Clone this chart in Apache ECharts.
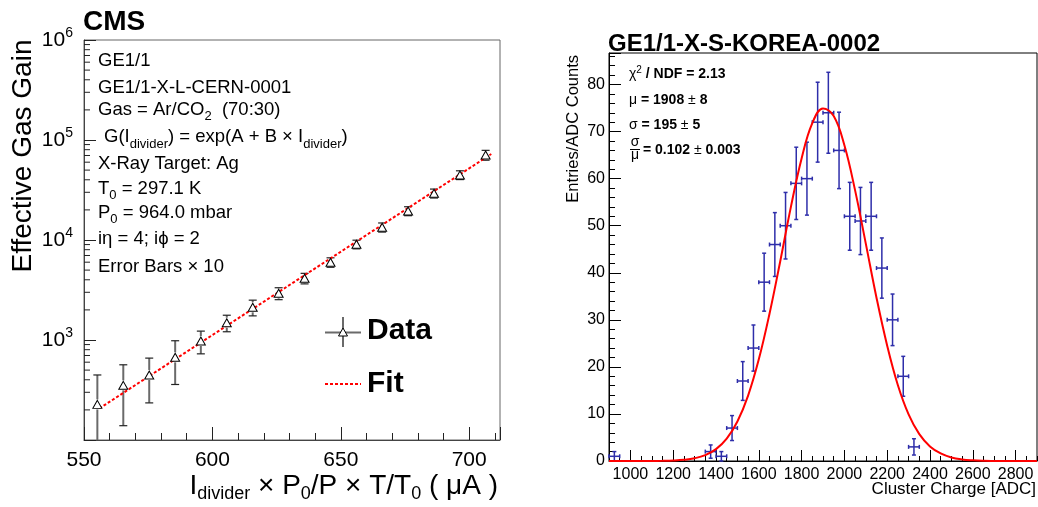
<!DOCTYPE html>
<html><head><meta charset="utf-8">
<script src="https://cdn.jsdelivr.net/npm/echarts@6/dist/echarts.min.js"></script>
<style>html,body{margin:0;padding:0;background:#fff}#c{width:1038px;height:507px}</style>
</head><body><div id="c"></div><script>
// ---------- Left panel: effective gas gain ----------
const gainX   = [555.2, 565.3, 575.4, 585.5, 595.5, 605.6, 615.7, 625.8, 635.9, 646.0, 656.1, 666.1, 676.2, 686.3, 696.4, 706.4];
const gainY   = [227, 352, 447, 671, 977, 1489, 2123, 2931, 4140, 5984, 9057, 13400, 19500, 29300, 44700, 70800];
const gainErr = [220, 213, 212, 312, 250, 280, 380, 400, 500, 650, 900, 1400, 2000, 3000, 4500, 8000];
const fitX = [556.0, 708.6];
const fitY = [207, 72400];
const gainYMinorTicks = [200,300,400,500,600,700,800,900,
  2000,3000,4000,5000,6000,7000,8000,9000,
  20000,30000,40000,50000,60000,70000,80000,90000,
  200000,300000,400000,500000,600000,700000,800000,900000];

// ---------- Right panel: cluster charge histogram ----------
const binCenters = [925, 1375, 1425, 1475, 1525, 1575, 1625, 1675, 1725, 1775, 1825, 1875, 1925, 1975, 2025, 2075, 2125, 2175, 2225, 2275, 2325];
const counts     = [1, 2, 1, 7, 17, 24, 38, 46, 50, 59, 60, 72, 74, 66, 52, 51, 52, 41, 30, 18, 3];
const countErr   = [1, 1.41, 1, 2.65, 4.12, 4.9, 6.16, 6.78, 7.07, 7.68, 7.75, 8.49, 8.6, 8.12, 7.21, 7.14, 7.21, 6.4, 5.48, 4.24, 1.73];
const binHalfWidth = 25;
const gausX = [900,950,1000,1050,1100,1150,1200,1250,1300,1350,1400,1450,1500,1550,1600,1650,1700,1750,1800,1850,1900,
  1950,2000,2050,2100,2150,2200,2250,2300,2350,2400,2450,2500,2550,2600,2650,2700,2750,2800,2850,2900];
const gausY = [0,0,0,0.005,0.014,0.04,0.1,0.25,0.58,1.25,2.52,4.76,8.4,13.9,21.6,31.3,42.4,54.0,64.3,71.8,74.9,
  73.3,67.1,57.5,46.2,34.7,24.5,16.1,9.9,5.7,3.1,1.6,0.75,0.33,0.14,0.05,0.02,0.007,0,0,0];
const chargeTicks = [1000,1200,1400,1600,1800,2000,2200,2400,2600,2800];

const FONT = '"Liberation Sans", Arial, Helvetica, sans-serif';
const GAIN_X_MIN = 550, GAIN_X_MAX = 712, GAIN_Y_MIN = 100, GAIN_Y_MAX = 1e6;
const CH_X_MIN = 900, CH_X_MAX = 2900, CH_Y_MAX = 86.7;
const HBLUE = '#2e2eaa';

function gainErrRender(params, api) {
  const x = api.value(0), y = api.value(1), e = api.value(2);
  const c = api.coord([x, y]);
  const loV = Math.max(y - e, GAIN_Y_MIN);
  const hi = api.coord([x, y + e]), lo = api.coord([x, loV]);
  const gap = 5, cap = 4;
  const bar = {stroke: '#6a6a6a', lineWidth: 2};
  const capS = {stroke: '#222', lineWidth: 1.2};
  const kids = [];
  if (hi[1] < c[1] - gap) kids.push({type: 'line', shape: {x1: c[0], y1: hi[1], x2: c[0], y2: c[1] - gap}, style: bar});
  if (lo[1] > c[1] + gap) kids.push({type: 'line', shape: {x1: c[0], y1: c[1] + gap, x2: c[0], y2: lo[1]}, style: bar});
  kids.push({type: 'line', shape: {x1: c[0] - cap, y1: hi[1], x2: c[0] + cap, y2: hi[1]}, style: capS});
  if (y - e > GAIN_Y_MIN) kids.push({type: 'line', shape: {x1: c[0] - cap, y1: lo[1], x2: c[0] + cap, y2: lo[1]}, style: capS});
  return {type: 'group', children: kids};
}
function minorTickRender(params, api) {
  const p = api.coord([api.value(0), api.value(1)]);
  return {type: 'line', shape: {x1: p[0], y1: p[1], x2: p[0] + 6, y2: p[1]}, style: {stroke: '#222', lineWidth: 1}};
}
function histErrRender(params, api) {
  const x = api.value(0), y = api.value(1), e = api.value(2), hw = api.value(3);
  const c = api.coord([x, y]);
  const t = api.coord([x, y + e]), b = api.coord([x, y - e]);
  const l = api.coord([x - hw, y]), r = api.coord([x + hw, y]);
  const s = {stroke: HBLUE, lineWidth: 1.5};
  const cap = 2;
  return {type: 'group', children: [
    {type: 'line', shape: {x1: c[0], y1: t[1], x2: c[0], y2: b[1]}, style: s},
    {type: 'line', shape: {x1: l[0], y1: c[1], x2: r[0], y2: c[1]}, style: s},
    {type: 'line', shape: {x1: c[0] - cap, y1: t[1], x2: c[0] + cap, y2: t[1]}, style: s},
    {type: 'line', shape: {x1: c[0] - cap, y1: b[1], x2: c[0] + cap, y2: b[1]}, style: s},
    {type: 'line', shape: {x1: l[0], y1: c[1] - cap, x2: l[0], y2: c[1] + cap}, style: s},
    {type: 'line', shape: {x1: r[0], y1: c[1] - cap, x2: r[0], y2: c[1] + cap}, style: s}
  ]};
}

function T(x, y, text, extra) {
  return {type: 'text', x: x, y: y, z: 100,
    style: Object.assign({text: text, fill: '#000', fontFamily: FONT, fontSize: 18.5, verticalAlign: 'middle', align: 'left'}, extra || {})};
}
const richL = {
  m: {fontFamily: FONT, fontSize: 18.5},
  s: {fontFamily: FONT, fontSize: 13, padding: [14, 0, 0, 0]}
};
const richX = {
  m: {fontFamily: FONT, fontSize: 28},
  s: {fontFamily: FONT, fontSize: 18, padding: [17, 0, 0, 0]}
};
const richS = {
  n: {fontFamily: FONT, fontSize: 14},
  b: {fontFamily: FONT, fontSize: 14, fontWeight: 'bold'},
  sup: {fontFamily: FONT, fontSize: 10, padding: [0, 0, 8, 0]}
};

const graphics = [
  T(83, 22, 'CMS', {fontSize: 28, fontWeight: 'bold'}),
  T(98, 61, 'GE1/1'),
  T(98, 87.5, 'GE1/1-X-L-CERN-0001'),
  T(98, 109.5, '{m|Gas = Ar/CO}{s|2}{m|  (70:30)}', {rich: richL}),
  T(104, 137, '{m|G(I}{s|divider}{m|) = exp(A + B × I}{s|divider}{m|)}', {rich: richL}),
  T(98, 164, 'X-Ray Target: Ag'),
  T(98, 188.5, '{m|T}{s|0}{m| = 297.1 K}', {rich: richL}),
  T(98, 212.5, '{m|P}{s|0}{m| = 964.0 mbar}', {rich: richL}),
  T(98, 239, 'iη = 4; iϕ = 2'),
  T(98, 267, 'Error Bars × 10'),
  // legend
  {type: 'line', z: 100, shape: {x1: 343, y1: 317, x2: 343, y2: 347}, style: {stroke: '#6a6a6a', lineWidth: 2}},
  {type: 'line', z: 100, shape: {x1: 325, y1: 332.5, x2: 361, y2: 332.5}, style: {stroke: '#6a6a6a', lineWidth: 2}},
  {type: 'polygon', z: 101, shape: {points: [[343, 328], [347.5, 336], [338.5, 336]]}, style: {fill: '#fff', stroke: '#000', lineWidth: 1}},
  T(367, 331, 'Data', {fontSize: 30, fontWeight: 'bold'}),
  {type: 'line', z: 100, shape: {x1: 325, y1: 384, x2: 361, y2: 384}, style: {stroke: '#ff0000', lineWidth: 2, lineDash: [3, 2]}},
  T(367, 384, 'Fit', {fontSize: 30, fontWeight: 'bold'}),
  // axis titles left
  {type: 'text', x: 23, y: 156, rotation: Math.PI / 2, z: 100,
    style: {text: 'Effective Gas Gain', fill: '#000', fontFamily: FONT, fontSize: 28, align: 'center', verticalAlign: 'middle'}},
  T(498, 486, '{m|I}{s|divider}{m| × P}{s|0}{m|/P × T/T}{s|0}{m| ( μA )}', {rich: richX, align: 'right'}),
  // right panel
  T(608, 44, 'GE1/1-X-S-KOREA-0002', {fontSize: 24, fontWeight: 'bold'}),
  {type: 'text', x: 573, y: 55, rotation: Math.PI / 2, z: 100,
    style: {text: 'Entries/ADC Counts', fill: '#000', fontFamily: FONT, fontSize: 16.5, align: 'right', verticalAlign: 'middle'}},
  T(1036, 489, 'Cluster Charge [ADC]', {fontSize: 17, align: 'right'}),
  T(629, 74, '{n|χ}{sup|2}{b| / NDF = 2.13}', {rich: richS}),
  T(629, 100.5, '{n|μ}{b| = 1908 }{n|±}{b| 8}', {rich: richS}),
  T(629, 125.5, '{n|σ}{b| = 195 }{n|±}{b| 5}', {rich: richS}),
  T(635, 142.5, 'σ', {fontSize: 14, align: 'center'}),
  {type: 'line', z: 100, shape: {x1: 630, y1: 149.5, x2: 640, y2: 149.5}, style: {stroke: '#000', lineWidth: 1}},
  T(635, 155.5, 'μ', {fontSize: 14, align: 'center'}),
  T(643, 150.5, '{b|= 0.102 }{n|±}{b| 0.003}', {rich: richS})
];

const option = {
  animation: false,
  backgroundColor: '#fff',
  textStyle: {fontFamily: FONT},
  grid: [
    {left: 84, top: 40, width: 416, height: 400, show: true, borderColor: '#666', borderWidth: 1},
    {left: 609, top: 53, width: 428, height: 408, show: true, borderColor: '#000', borderWidth: 1}
  ],
  xAxis: [
    {gridIndex: 0, type: 'value', position: 'bottom', min: GAIN_X_MIN, max: GAIN_X_MAX, interval: 50,
      axisLine: {show: true, lineStyle: {color: '#444', width: 1}},
      axisTick: {show: true, inside: true, length: 13, lineStyle: {color: '#222'}},
      axisLabel: {fontSize: 21, color: '#000', margin: 10, fontFamily: FONT,
        formatter: v => (v % 50 === 0 ? String(v) : '')},
      splitLine: {show: false}},
    {gridIndex: 0, type: 'value', position: 'bottom', min: GAIN_X_MIN, max: GAIN_X_MAX, interval: 10,
      axisLine: {show: false}, axisTick: {show: true, inside: true, length: 7, lineStyle: {color: '#222'}},
      axisLabel: {show: false}, splitLine: {show: false}},
    {gridIndex: 1, type: 'value', position: 'bottom', min: CH_X_MIN, max: CH_X_MAX,
      axisLine: {show: true, lineStyle: {color: '#000', width: 1}},
      axisTick: {show: true, inside: true, length: 11, customValues: chargeTicks, lineStyle: {color: '#000'}},
      axisLabel: {customValues: chargeTicks, fontSize: 16, color: '#000', margin: 6, fontFamily: FONT,
        formatter: v => String(v)},
      splitLine: {show: false}},
    {gridIndex: 1, type: 'value', position: 'bottom', min: CH_X_MIN, max: CH_X_MAX, interval: 50,
      axisLine: {show: false}, axisTick: {show: true, inside: true, length: 5, lineStyle: {color: '#000'}},
      axisLabel: {show: false}, splitLine: {show: false}}
  ],
  yAxis: [
    {gridIndex: 0, type: 'log', logBase: 10, position: 'left', min: GAIN_Y_MIN, max: GAIN_Y_MAX,
      axisLine: {show: true, lineStyle: {color: '#444', width: 1}},
      axisTick: {show: true, inside: true, length: 12, lineStyle: {color: '#222'}},
      axisLabel: {margin: 11, color: '#000',
        formatter: v => (v <= GAIN_Y_MIN * 1.01 ? '' : '{b|10}{s|' + Math.round(Math.log10(v)) + '}'),
        rich: {b: {fontFamily: FONT, fontSize: 21, color: '#000'},
               s: {fontFamily: FONT, fontSize: 14, color: '#000', padding: [0, 0, 13, 0]}}},
      splitLine: {show: false}, minorTick: {show: false}},
    {gridIndex: 1, type: 'value', position: 'left', min: 0, max: CH_Y_MAX, interval: 10,
      axisLine: {show: true, lineStyle: {color: '#000', width: 1}},
      axisTick: {show: true, inside: true, length: 12, lineStyle: {color: '#000'}},
      axisLabel: {fontSize: 16, color: '#000', margin: 4, fontFamily: FONT,
        formatter: v => (v % 10 === 0 ? String(v) : '')},
      splitLine: {show: false}},
    {gridIndex: 1, type: 'value', position: 'left', min: 0, max: CH_Y_MAX, interval: 2,
      axisLine: {show: false}, axisTick: {show: true, inside: true, length: 6, lineStyle: {color: '#000'}},
      axisLabel: {show: false}, splitLine: {show: false}}
  ],
  series: [
    {type: 'custom', xAxisIndex: 0, yAxisIndex: 0, renderItem: gainErrRender, z: 3,
      data: gainX.map((x, i) => [x, gainY[i], gainErr[i]])},
    {type: 'line', xAxisIndex: 0, yAxisIndex: 0, symbol: 'none', z: 4,
      lineStyle: {color: '#ff0000', width: 2, type: [3, 2]},
      data: fitX.map((x, i) => [x, fitY[i]])},
    {type: 'scatter', xAxisIndex: 0, yAxisIndex: 0, symbol: 'triangle', symbolSize: [9, 8], z: 5,
      itemStyle: {color: '#fff', borderColor: '#000', borderWidth: 1, opacity: 1},
      data: gainX.map((x, i) => [x, gainY[i]])},
    {type: 'custom', xAxisIndex: 0, yAxisIndex: 0, renderItem: minorTickRender, z: 3,
      data: gainYMinorTicks.map(v => [GAIN_X_MIN, v])},
    {type: 'custom', xAxisIndex: 2, yAxisIndex: 1, renderItem: histErrRender, z: 3,
      data: binCenters.map((x, i) => [x, counts[i], countErr[i], binHalfWidth])},
    {type: 'line', xAxisIndex: 2, yAxisIndex: 1, symbol: 'none', smooth: 0.4, clip: false, z: 4,
      lineStyle: {color: '#ff0000', width: 2},
      data: gausX.map((x, i) => [x, gausY[i]])}
  ],
  graphic: graphics
};
const chart = echarts.init(document.getElementById('c'), null, {renderer: 'canvas'});
chart.setOption(option);
</script></body></html>
